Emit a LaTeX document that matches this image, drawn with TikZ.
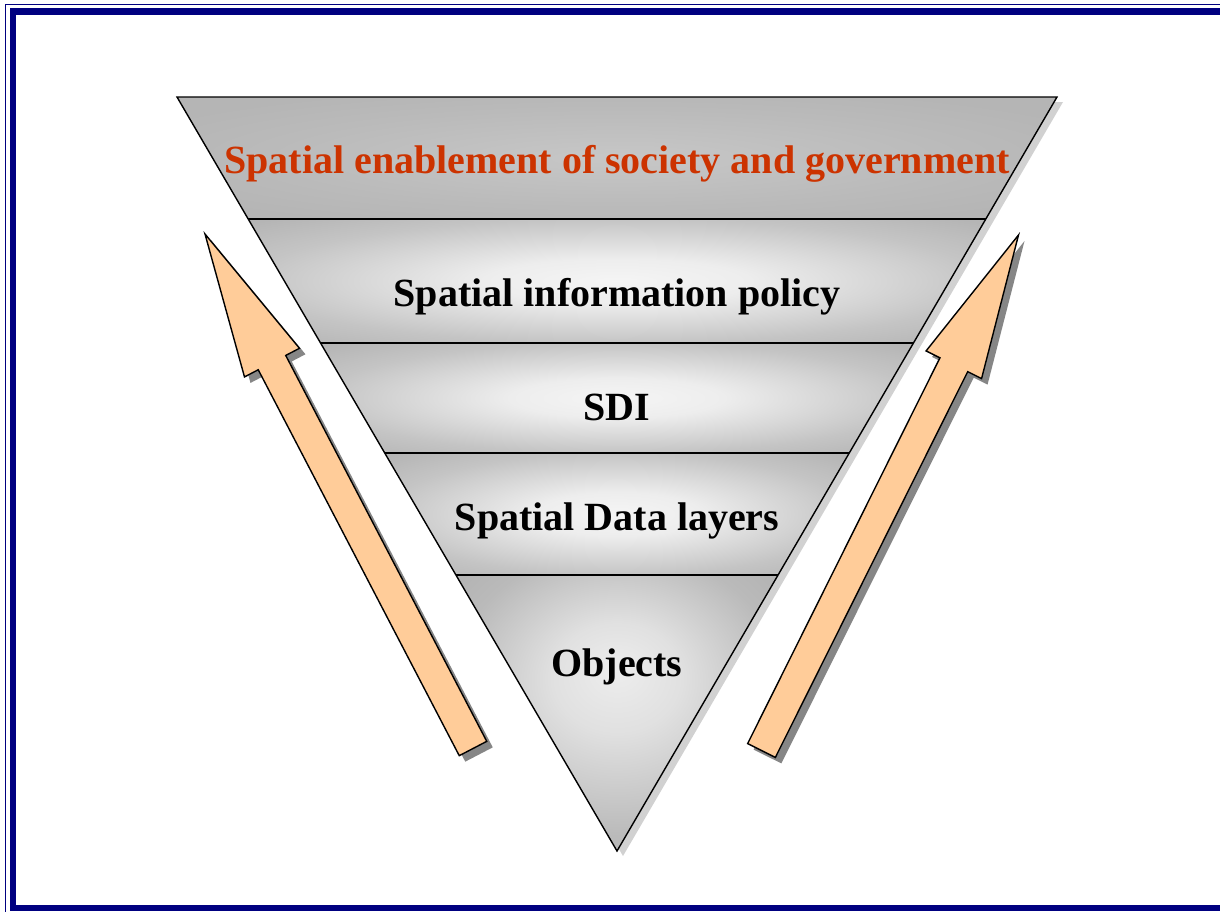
\documentclass[tikz,border=0pt]{standalone}
\usepackage{fontspec}
\setmainfont{Liberation Serif}
\usetikzlibrary{calc}
\definecolor{frameblue}{RGB}{0,0,128}
\definecolor{titlered}{RGB}{204,51,0}
\definecolor{peach}{RGB}{255,204,153}
\pgfdeclareradialshading{bandglow}{\pgfpoint{0bp}{0bp}}{color(0bp)=(gray!8); color(9bp)=(gray!14); color(25bp)=(gray!46); color(34bp)=(gray!58); color(50bp)=(gray!58)}
\pgfdeclareradialshading{topglow}{\pgfpoint{0bp}{0bp}}{color(0bp)=(gray!44); color(20bp)=(gray!54); color(30bp)=(gray!58); color(50bp)=(gray!58)}
\pgfdeclareradialshading{lowglow}{\pgfpoint{0bp}{8bp}}{color(0bp)=(gray!14); color(10bp)=(gray!24); color(26bp)=(gray!54); color(34bp)=(gray!60); color(50bp)=(gray!60)}
\newcommand{\sketcharrow}[3]{%
  \coordinate (#1n) at ($(#3)!145pt!(#2)$);
  \coordinate (#1t1) at ($(#2)!15.5pt!90:(#3)$);
  \coordinate (#1t2) at ($(#2)!15.5pt!-90:(#3)$);
  \coordinate (#1n1) at ($(#1n)!15.5pt!90:(#3)$);
  \coordinate (#1n2) at ($(#1n)!15.5pt!-90:(#3)$);
  \coordinate (#1b1) at ($(#1n)!31pt!90:(#3)$);
  \coordinate (#1b2) at ($(#1n)!31pt!-90:(#3)$);
  \fill[arrowshadow] (#1t1) -- (#1n1) -- (#1b1) -- (#3) -- (#1b2) -- (#1n2) -- (#1t2) -- cycle;
  \draw[arrowbody] (#1t1) -- (#1n1) -- (#1b1) -- (#3) -- (#1b2) -- (#1n2) -- (#1t2) -- cycle;
}
\begin{document}
\begin{tikzpicture}[x=1pt,y=-1pt,
  lbl/.style={font=\fontsize{40}{48}\selectfont\bfseries, anchor=base, inner sep=0pt},
  bandline/.style={draw=black, line width=1.4},
  arrowbody/.style={fill=peach, draw=black, line width=1.4, line join=miter},
  arrowshadow/.style={fill=gray!95, transform canvas={xshift=6pt, yshift=-6pt}},
  trishadow/.style={fill=gray!36, transform canvas={xshift=6pt, yshift=-5pt}},
  bandshade/.style={shading=bandglow},
  topshade/.style={shading=topglow},
  lowshade/.style={shading=lowglow}]
\useasboundingbox (0,0) rectangle (1220,911);
\clip (0,0) rectangle (1220,911);
\fill[white] (0,0) rectangle (1220,911);
% frame
\draw[frameblue, line width=1.5] (5.5,4.5) rectangle (1240,930);
\draw[frameblue, line width=6.5] (12.75,11.5) rectangle (1228,908);
% triangle geometry
\coordinate (A) at (177,97);
\coordinate (B) at (1057,97);
\coordinate (C) at (617,851);
\coordinate (L1) at ($(A)!0.1618!(C)$);
\coordinate (R1) at ($(B)!0.1618!(C)$);
\coordinate (L2) at ($(A)!0.3263!(C)$);
\coordinate (R2) at ($(B)!0.3263!(C)$);
\coordinate (L3) at ($(A)!0.4721!(C)$);
\coordinate (R3) at ($(B)!0.4721!(C)$);
\coordinate (L4) at ($(A)!0.6340!(C)$);
\coordinate (R4) at ($(B)!0.6340!(C)$);
% triangle shadow
\fill[trishadow] (A) -- (B) -- (C) -- cycle;
% bands
\shade[topshade] (A) -- (B) -- (R1) -- (L1) -- cycle;
\shade[bandshade] (L1) -- (R1) -- (R2) -- (L2) -- cycle;
\shade[bandshade] (L2) -- (R2) -- (R3) -- (L3) -- cycle;
\shade[bandshade] (L3) -- (R3) -- (R4) -- (L4) -- cycle;
\shade[lowshade] (L4) -- (R4) -- (C) -- cycle;
\draw[bandline] (L1) -- (R1);
\draw[bandline] (L2) -- (R2);
\draw[bandline] (L3) -- (R3);
\draw[bandline] (L4) -- (R4);
\draw[bandline, line join=miter] (A) -- (B) -- (C) -- cycle;
% labels
\node[lbl, text=titlered] (title) at (617,173) {Spatial enablement of society and government};
\node[lbl] (policy) at (617,306) {Spatial information policy};
\node[lbl] (sdi) at (617,420) {SDI};
\node[lbl] (layers) at (617,530) {Spatial Data layers};
\node[lbl] (objects) at (617,676) {Objects};
% arrows
\coordinate (LT) at (473,748.5);
\coordinate (LP) at (205,234);
\coordinate (RT) at (761.5,750.5);
\coordinate (RP) at (1018.5,235);
\sketcharrow{la}{LT}{LP}
\sketcharrow{ra}{RT}{RP}
\end{tikzpicture}
\end{document}
